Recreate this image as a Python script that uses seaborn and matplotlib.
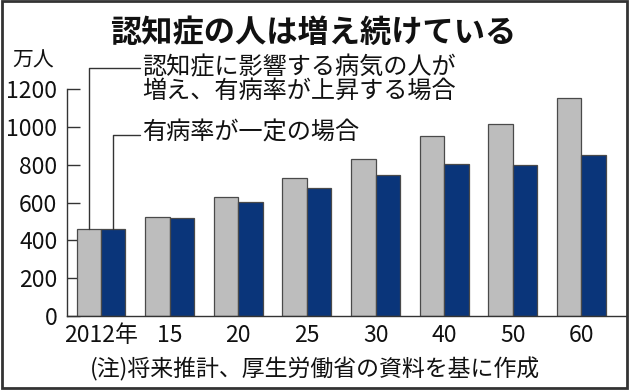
import matplotlib
matplotlib.use("Agg")
import matplotlib.pyplot as plt
from matplotlib.patches import Rectangle
from matplotlib.lines import Line2D
import seaborn as sns
import pandas as pd

# ---- data ----
years = ['2012年', '15', '20', '25', '30', '40', '50', '60']
rising = [462, 525, 631, 730, 830, 953, 1016, 1154]
constant = [462, 517, 602, 675, 744, 802, 797, 850]
series_names = ['認知症に影響する病気の人が増え、有病率が上昇する場合', '有病率が一定の場合']
yticks = [0, 200, 400, 600, 800, 1000, 1200]

title = '認知症の人は増え続けている'
unit = '万人'
note = '(注)将来推計、厚生労働省の資料を基に作成'
label1a = '認知症に影響する病気の人が'
label1b = '増え、有病率が上昇する場合'
label2 = '有病率が一定の場合'

sns.set_theme(style='white')
CJK = ['Noto Sans CJK JP', 'DejaVu Sans']
NUM = ['Noto Sans CJK JP', 'DejaVu Sans']
plt.rcParams['font.family'] = CJK

df = pd.DataFrame({
    'year': years * 2,
    'value': rising + constant,
    'scenario': [series_names[0]] * len(years) + [series_names[1]] * len(years),
})

W, H = 630, 391
fig = plt.figure(figsize=(W / 100, H / 100), dpi=100)
fig.patch.set_facecolor('white')

ax_left, ax_right, ax_bottom, ax_top = 67, 627, 316, 89.3
ax = fig.add_axes([ax_left / W, 1 - ax_bottom / H, (ax_right - ax_left) / W, (ax_bottom - ax_top) / H])

gray = '#bdbdbd'
blue = '#0a357a'
sns.barplot(data=df, x='year', y='value', hue='scenario', palette=[gray, blue],
            width=0.713, gap=0, saturation=1, edgecolor='#4a4a4a', linewidth=0.9,
            legend=False, ax=ax)

ax.set_xlim(-0.495, 7.663)
ax.set_ylim(0, 1200)
ax.set_yticks(yticks)
ax.set_yticklabels([str(v) for v in yticks], family=NUM, fontsize=16.5, color='#111')
ax.set_xticks(range(len(years)))
ax.set_xticklabels(years, family=NUM, fontsize=16.5, color='#111')
ax.set_xlabel('')
ax.set_ylabel('')
ax.tick_params(axis='y', direction='in', length=9.5, width=1, color='#333', pad=7, left=True)
ax.tick_params(axis='x', length=0, pad=5.5)
for s in ['top', 'right']:
    ax.spines[s].set_visible(False)
for s in ['left', 'bottom']:
    ax.spines[s].set_color('#333')
    ax.spines[s].set_linewidth(1)
ax.set_facecolor('white')

# ---- annotations ----
def fig_xy(px, py):
    return px / W, 1 - py / H

fig.text(*fig_xy(313, 33), title, ha='center', va='center', fontsize=22.5,
         fontweight='bold', color='#111')
fig.text(*fig_xy(33, 61), unit, ha='center', va='center', fontsize=15, color='#111')
fig.text(*fig_xy(315, 369), note, ha='center', va='center', fontsize=16.5, color='#111')
fig.text(*fig_xy(142, 67), label1a, ha='left', va='center', fontsize=17.4, color='#111')
fig.text(*fig_xy(142, 91), label1b, ha='left', va='center', fontsize=17.4, color='#111')
fig.text(*fig_xy(142, 133), label2, ha='left', va='center', fontsize=17.4, color='#111')

# leader lines from the first group's bars
fig.canvas.draw()
patches = sorted([p for p in ax.patches if p.get_height() > 0], key=lambda p: p.get_x())
inv = fig.transFigure.inverted()
for p, ly in [(patches[0], 68), (patches[1], 135)]:
    cx = p.get_x() + p.get_width() / 2
    top = p.get_height()
    bx, by = inv.transform(ax.transData.transform((cx, top)))
    _, fy = fig_xy(0, ly)
    ex, _ = fig_xy(140, 0)
    fig.add_artist(Line2D([bx, bx, ex], [by, fy, fy], transform=fig.transFigure,
                          color='#333', lw=1))

# outer frame
fig.add_artist(Rectangle((0.0024, 0.0077), 0.9935, 0.9885, transform=fig.transFigure,
                         fill=False, ec='#333', lw=2))

fig.savefig('out.png', dpi=100, facecolor='white')
